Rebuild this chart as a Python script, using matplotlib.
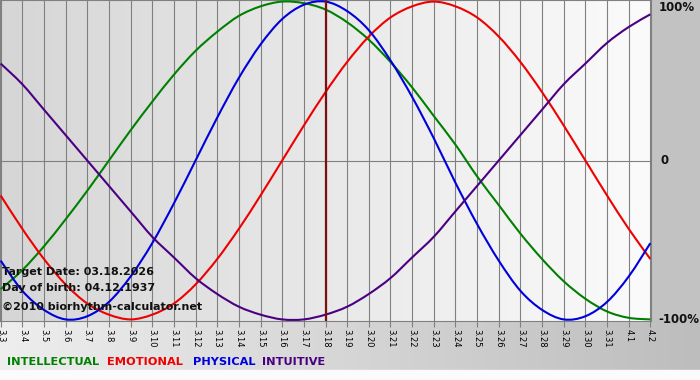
import matplotlib
matplotlib.use('Agg')
import matplotlib.pyplot as plt
from matplotlib.path import Path
from matplotlib.patches import PathPatch
import numpy as np

# days shown: Mar 3 .. Apr 2 (Apr 1 = day 32, Apr 2 = day 33)
days = list(range(3, 34))
day_labels = ['3.%d' % d for d in range(3, 32)] + ['4.1', '4.2']
target_day = 18

# values, -1 .. 1 (one per day)
intellectual = [-0.81, -0.69, -0.54, -0.37, -0.19, 0.00, 0.19, 0.37, 0.54, 0.69, 0.81,
                0.91, 0.97, 1.00, 0.99, 0.95, 0.87, 0.76, 0.62, 0.46, 0.28, 0.10,
                -0.10, -0.28, -0.46, -0.62, -0.76, -0.87, -0.95, -0.99, -1.00]
emotional = [-0.22, -0.43, -0.62, -0.78, -0.90, -0.97, -1.00, -0.97, -0.90, -0.78, -0.62,
             -0.43, -0.22, 0.00, 0.22, 0.43, 0.62, 0.78, 0.90, 0.97, 1.00, 0.97,
             0.90, 0.78, 0.62, 0.43, 0.22, 0.00, -0.22, -0.43, -0.62]
physical = [-0.63, -0.82, -0.94, -1.00, -0.98, -0.89, -0.73, -0.52, -0.27, 0.00, 0.27,
            0.52, 0.73, 0.89, 0.98, 1.00, 0.94, 0.82, 0.63, 0.40, 0.14, -0.14,
            -0.40, -0.63, -0.82, -0.94, -1.00, -0.98, -0.89, -0.73, -0.52]
intuitive = [0.61, 0.48, 0.32, 0.16, 0.00, -0.16, -0.32, -0.48, -0.61, -0.74, -0.84,
             -0.92, -0.97, -1.00, -1.00, -0.97, -0.92, -0.84, -0.74, -0.61, -0.48, -0.32,
             -0.16, 0.00, 0.16, 0.32, 0.48, 0.61, 0.74, 0.84, 0.92]

series = [
    ('INTELLECTUAL', intellectual, '#008000'),
    ('EMOTIONAL', emotional, '#ee0000'),
    ('PHYSICAL', physical, '#0000dd'),
    ('INTUITIVE', intuitive, '#4b0082'),
]


def smooth_path(xs, ys):
    # Catmull-Rom through the points, drawn as cubic bezier segments
    pts = np.column_stack([xs, ys]).astype(float)
    padded = np.vstack([pts[0], pts, pts[-1]])
    verts = [pts[0]]
    codes = [Path.MOVETO]
    for i in range(1, len(padded) - 2):
        p0, p1, p2, p3 = padded[i - 1], padded[i], padded[i + 1], padded[i + 2]
        verts += [p1 + (p2 - p0) / 6, p2 - (p3 - p1) / 6, p2]
        codes += [Path.CURVE4] * 3
    return Path(verts, codes)


W, H = 700, 380
fig = plt.figure(figsize=(W / 100, H / 100), dpi=100, facecolor='#c2c2c2')

# bottom band with the day labels / legend: light on the left, darker on the right
band = fig.add_axes([0, 10 / H, 1, 50 / H])
band.imshow(np.linspace(0, 1, 256)[None, :],
            cmap=matplotlib.colors.LinearSegmentedColormap.from_list('b', ['#eeeeee', '#bdbdbd']),
            aspect='auto', extent=(0, 1, 0, 1))
band.set_axis_off()
fig.patches.append(plt.Rectangle((0, 0), 1, 10 / H, transform=fig.transFigure, color='#fbfbfb', zorder=0))

ax = fig.add_axes([0, 59 / H, 651 / W, 321 / H])
ax.set_xlim(2.97, 33.03)
ax.set_ylim(-1.01, 1.01)
bg = matplotlib.colors.LinearSegmentedColormap.from_list('bg', ['#d6d6d6', '#fbfbfb'])
ax.imshow(np.linspace(0, 1, 256)[None, :], cmap=bg, aspect='auto',
          extent=(2.97, 33.03, -1.01, 1.01), zorder=0)

for d in days:
    ax.axvline(d, color='#808080', lw=0.8, zorder=1)
ax.axhline(0, color='#808080', lw=0.8, zorder=1)

for name, vals, col in series:
    ax.add_patch(PathPatch(smooth_path(days, vals), fill=False, edgecolor=col, lw=1.5, zorder=3))

ax.axvline(target_day, color='#7a1010', lw=1.6, zorder=4)

for sp in ax.spines.values():
    sp.set_color('#808080')
    sp.set_linewidth(0.8)

ax.set_xticks(days)
ax.set_xticklabels(day_labels)
ax.tick_params(axis='x', length=4, color='#808080', width=0.8, pad=1.5,
               labelsize=6, labelcolor='#000000', labelrotation=-90)
ax.set_yticks([])

# right side percentage labels
for yv, txt, va in [(1.0, '100%', 'top'), (0.0, '0', 'center'), (-1.0, '-100%', 'center')]:
    ax.text(1.012 if txt != '0' else 1.014, yv + (0.005 if va == 'top' else 0), txt,
            transform=ax.get_yaxis_transform(), ha='left', va=va,
            fontsize=8.5, fontweight='bold', color='#111111', clip_on=False)

# info text, lower left inside the chart
info = ['Target Date: 03.18.2026', 'Day of birth: 04.12.1937', '\u00a92010 biorhythm-calculator.net']
for txt, yy in zip(info, [0.143, 0.093, 0.034]):
    ax.text(0.003, yy, txt, transform=ax.transAxes, ha='left', va='baseline',
            fontsize=8, fontweight='bold', color='#111111', zorder=5)

# coloured legend words at the bottom
for (name, vals, col), xp in zip(series, [7, 107, 193, 262]):
    fig.text(xp / W, (H - 362) / H, name, color=col, ha='left', va='center',
             fontsize=8.2, fontweight='bold')

fig.savefig('out.png', dpi=100, facecolor=fig.get_facecolor())
